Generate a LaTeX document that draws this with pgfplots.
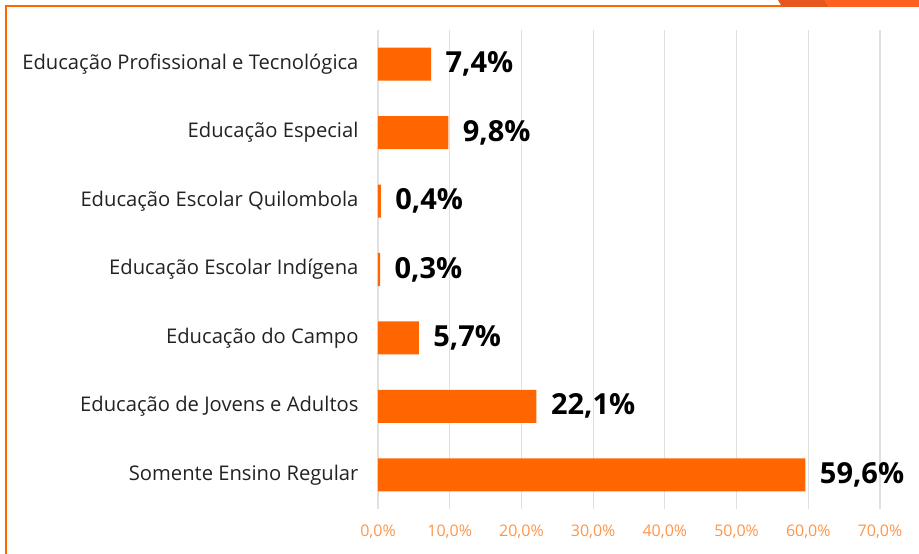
\documentclass[border=0pt]{standalone}
\usepackage{pgfplots}
\pgfplotsset{compat=1.18}
\usepackage{fontspec}
\setmainfont{Open Sans}
\definecolor{barorange}{HTML}{FF6600}
\definecolor{tickorange}{HTML}{FF9548}
\definecolor{framedark}{HTML}{E8561F}
\definecolor{framelight}{HTML}{FF5F1F}
\definecolor{labelgray}{HTML}{222222}
\begin{document}
\begin{tikzpicture}[x=1pt,y=1pt]
\useasboundingbox (0,0) rectangle (919,554);
% frame
\draw[barorange, line width=2.2pt] (6,0) -- (6,548) -- (782,548);
\fill[framedark] (778,554) -- (782,547) -- (829,547) -- (825,554) -- cycle;
\fill[framelight] (825,554) -- (829,547) -- (919,547) -- (919,554) -- cycle;
\begin{axis}[
  at={(378pt,45pt)}, anchor=south west,
  width=502pt, height=479pt, scale only axis,
  xbar, bar width=33pt,
  xmin=0, xmax=70, ymin=-0.5, ymax=6.5,
  xtick={0,10,20,30,40,50,60,70},
  xticklabels={{0,0\%},{10,0\%},{20,0\%},{30,0\%},{40,0\%},{50,0\%},{60,0\%},{70,0\%}},
  ytick={0,1,2,3,4,5,6},
  yticklabels={Somente Ensino Regular, Educação de Jovens e Adultos, Educação do Campo, Educação Escolar Indígena, Educação Escolar Quilombola, Educação Especial, Educação Profissional e Tecnológica},
  xmajorgrids, major grid style={draw=black!12, line width=1.2pt},
  axis line style={draw=none},
  major tick length=0pt,
  x tick label style={font=\fontsize{16}{19}\selectfont, text=tickorange, yshift=-12pt},
  y tick label style={font=\fontsize{20.2}{24}\selectfont, text=labelgray, xshift=-16pt},
  /pgf/number format/assume math mode=true,
  nodes near coords={\pgfmathprintnumber[fixed,precision=1,fixed zerofill,use comma,assume math mode=true]{\pgfplotspointmeta}\%},
  nodes near coords style={font=\bfseries\fontsize{29}{34}\selectfont, text=black, anchor=west, xshift=11pt},
  point meta=explicit,
  clip=false,
]
\addplot[fill=barorange, draw=none] coordinates {
  (59.6,0) [59.6]
  (22.1,1) [22.1]
  (5.7,2) [5.7]
  (0.3,3) [0.3]
  (0.4,4) [0.4]
  (9.8,5) [9.8]
  (7.4,6) [7.4]
};
\end{axis}
\end{tikzpicture}
\end{document}
